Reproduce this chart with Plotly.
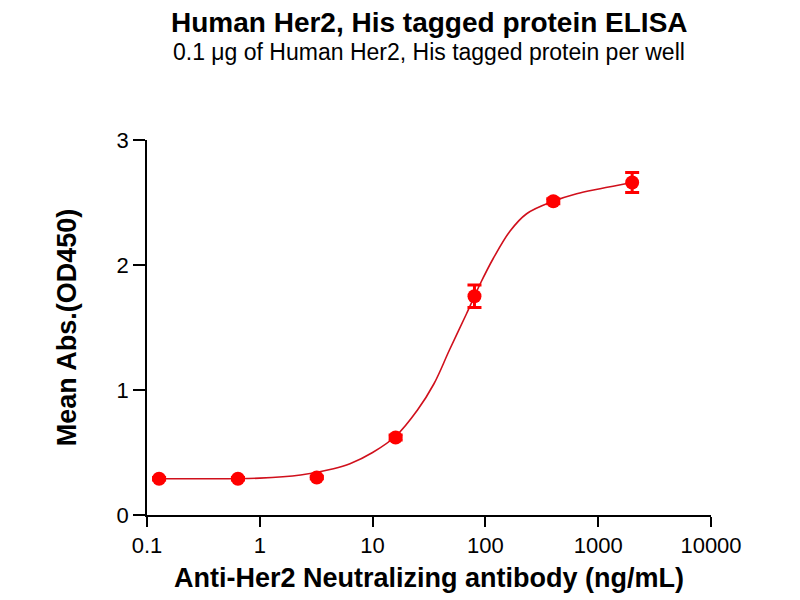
import plotly.graph_objects as go

# measured points (ng/mL -> OD450)
conc = [0.128, 0.64, 3.2, 16, 80, 400, 2000]
od450 = [0.29, 0.29, 0.30, 0.62, 1.75, 2.51, 2.66]
od_err = [0.01, 0.01, 0.01, 0.02, 0.09, 0.02, 0.08]

# fitted curve
curve_x = [0.128, 0.3, 1, 2.3, 4.5, 6.3, 10, 16, 25, 35, 48, 68, 90, 117, 165, 232, 400, 644, 1040, 2000]
curve_y = [0.29, 0.29, 0.295, 0.32, 0.37, 0.41, 0.50, 0.63, 0.84, 1.05, 1.32, 1.61, 1.85, 2.05, 2.27, 2.41, 2.51, 2.57, 2.61, 2.66]

x_ticks = [0.1, 1, 10, 100, 1000, 10000]
x_labels = ["0.1", "1", "10", "100", "1000", "10000"]
y_ticks = [0, 1, 2, 3]

FONT = "Liberation Sans, Arial, sans-serif"

fig = go.Figure()

# fit line
fig.add_trace(go.Scatter(
    x=curve_x, y=curve_y, mode="lines", line_shape="spline",
    line=dict(color="#d0101c", width=1.6), hoverinfo="skip", showlegend=False,
))

# points with error bars
fig.add_trace(go.Scatter(
    x=conc, y=od450, mode="markers",
    marker=dict(color="#ff0000", size=14),
    error_y=dict(type="data", array=od_err, color="#ff0000", thickness=3, width=7),
    showlegend=False,
))

# page has an 8px body margin, so margins are shifted by 8
fig.update_layout(
    width=800, height=600,
    margin=dict(l=139, r=97, t=132, b=93),
    paper_bgcolor="white", plot_bgcolor="white",
    font=dict(family=FONT, color="black"),
    annotations=[
        dict(text="<b>Human Her2, His tagged protein ELISA</b>",
             xref="paper", yref="paper", x=0.5, y=(515 - 23) / 375,
             xanchor="center", yanchor="middle", showarrow=False,
             font=dict(size=28, family=FONT, color="black")),
        dict(text="0.1 \u03bcg of Human Her2, His tagged protein per well",
             xref="paper", yref="paper", x=0.5, y=(515 - 52) / 375,
             xanchor="center", yanchor="middle", showarrow=False,
             font=dict(size=23, family=FONT, color="black")),
    ],
)

fig.update_xaxes(
    type="log", range=[-1, 4],
    tickvals=x_ticks, ticktext=x_labels,
    showline=True, linecolor="black", linewidth=1.5,
    ticks="outside", ticklen=10, tickwidth=1.5, tickcolor="black",
    showgrid=False, zeroline=False,
    tickfont=dict(size=22),
    title=dict(text="<b>Anti-Her2 Neutralizing antibody (ng/mL)</b>",
               font=dict(size=27), standoff=11),
)
fig.update_yaxes(
    range=[0, 3], tickvals=y_ticks,
    showline=True, linecolor="black", linewidth=1.5,
    ticks="outside", ticklen=12, tickwidth=1.5, tickcolor="black",
    showgrid=False, zeroline=False,
    tickfont=dict(size=22),
    title=dict(text="<b>Mean Abs.(OD450)</b>", font=dict(size=27), standoff=32),
)

fig.write_html("out.html")
